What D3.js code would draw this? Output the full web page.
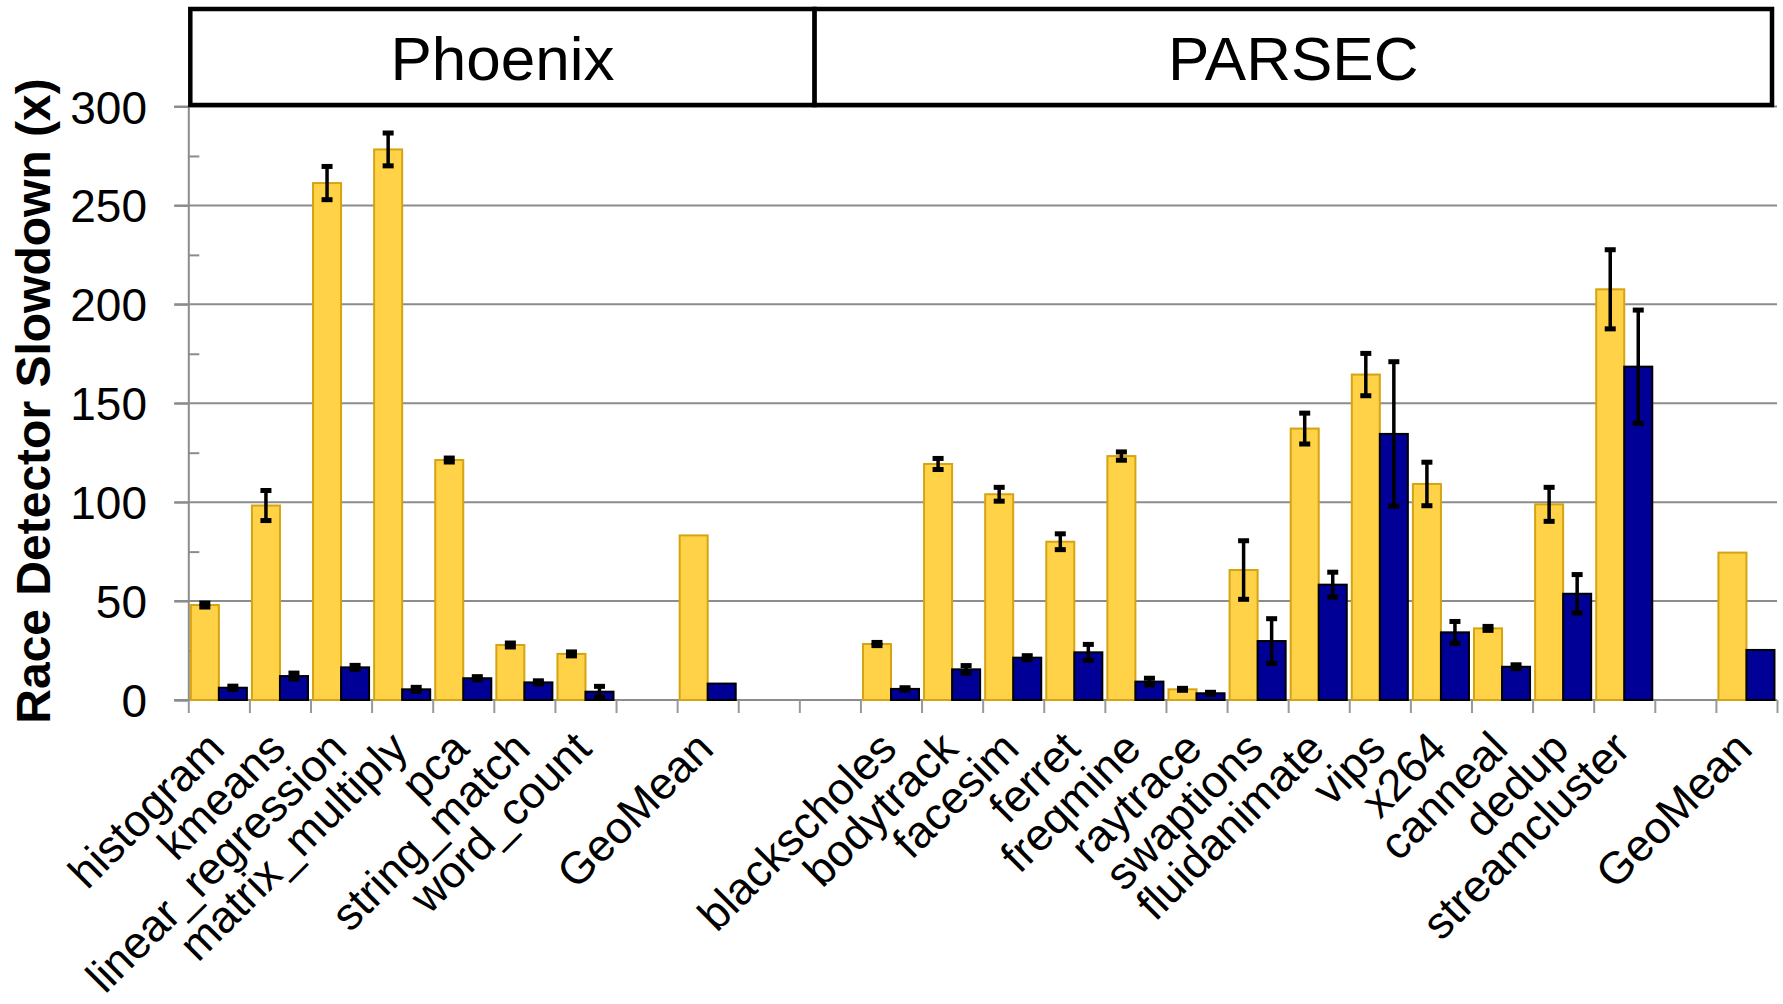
<!DOCTYPE html>
<html>
<head>
<meta charset="utf-8">
<script src="https://cdn.jsdelivr.net/npm/d3@7"></script>
<style>
  html, body { margin: 0; padding: 0; background: #fff; }
  svg { display: block; font-family: "Liberation Sans", Arial, Helvetica, sans-serif; }
</style>
</head>
<body>
<svg id="chart" width="1783" height="1004"></svg>
<script>
// Benchmarks, one slot each; null marks an empty spacer slot.
const categories = [
  "histogram", "kmeans", "linear_regression", "matrix_multiply", "pca",
  "string_match", "word_count", null, "GeoMean", null, null,
  "blackscholes", "bodytrack", "facesim", "ferret", "freqmine", "raytrace",
  "swaptions", "fluidanimate", "vips", "x264", "canneal", "dedup",
  "streamcluster", null, "GeoMean"
];

// Slowdown of the first (gold) and second (navy) detector configuration.
const slowdownGold = [
  48.0, 98.3, 261.3, 278.3, 121.3, 27.8, 23.3, null, 83.2, null, null,
  28.3, 119.3, 104.0, 80.0, 123.3, 5.4, 65.7, 137.2, 164.5, 109.2, 36.2, 98.9,
  207.6, null, 74.5
];
const slowdownNavy = [
  6.2, 12.1, 16.5, 5.4, 11.0, 8.9, 4.2, null, 8.3, null, null,
  5.6, 15.5, 21.4, 24.1, 9.3, 3.4, 29.8, 58.3, 134.5, 34.2, 16.8, 53.7,
  168.5, null, 25.3
];

// Half-width of the error bars (null: no error bar, e.g. geometric means).
const errorGold = [
  1.0, 7.6, 8.4, 8.3, 1.0, 1.0, 1.0, null, null, null, null,
  0.8, 2.8, 3.5, 4.0, 2.1, 0.5, 14.8, 7.8, 10.7, 11.0, 1.0, 8.6,
  20.0, null, null
];
const errorNavy = [
  0.8, 1.5, 1.0, 1.0, 0.8, 0.8, 2.7, null, null, null, null,
  0.6, 1.9, 1.0, 4.0, 1.7, 0.5, 11.3, 6.3, 36.5, 5.5, 1.0, 9.7,
  28.6, null, null
];

const yTicks = [0, 50, 100, 150, 200, 250, 300];
const yMinorTicks = [25, 75, 125, 175, 225, 275];
const suiteNames = ["Phoenix", "PARSEC"];
const suiteSpans = [[0, 10.25], [10.25, 26]];   // slot ranges covered by each suite header
const yTitle = "Race Detector Slowdown (x)";

const series = [
  { key: "gold", values: slowdownGold, errors: errorGold, fill: "#FFD247", stroke: "#D6A312" },
  { key: "navy", values: slowdownNavy, errors: errorNavy, fill: "#000096", stroke: "#000000" }
];

const svg = d3.select("#chart");
const plotLeft = 188.3, plotRight = 1777, plotTop = 106.5, plotBottom = 700;

const x = d3.scaleBand().domain(d3.range(categories.length)).range([plotLeft, plotRight]).padding(0);
const step = x.step();
const slotX = d3.scaleLinear().domain([0, categories.length]).range([plotLeft, plotRight]);
const xInner = d3.scaleBand().domain(series.map(s => s.key)).range([0, step])
  .paddingInner(0).paddingOuter(0.09);
const y = d3.scaleLinear().domain([0, 300]).range([plotBottom, plotTop]);

const gridColor = "#8c8c8c";

// Horizontal gridlines
svg.append("g").selectAll("line").data(yTicks).join("line")
  .attr("x1", plotLeft - 14).attr("x2", plotRight)
  .attr("y1", d => y(d)).attr("y2", d => y(d))
  .attr("stroke", gridColor).attr("stroke-width", 2);

// Y axis with outward major ticks
const yAxis = svg.append("g").attr("transform", `translate(${plotLeft},0)`)
  .call(d3.axisLeft(y).tickValues(yTicks).tickSize(14).tickFormat(d3.format("d")));
yAxis.select(".domain").attr("stroke", gridColor).attr("stroke-width", 2);
yAxis.selectAll(".tick line").attr("stroke", gridColor).attr("stroke-width", 2);
yAxis.selectAll(".tick text")
  .attr("font-size", 46).attr("fill", "#000")
  .attr("x", 147 - plotLeft).attr("dy", "0.36em");
yAxis.attr("font-family", null).attr("font-size", null);

// Minor ticks drawn inside the plot
const yMinor = svg.append("g").attr("transform", `translate(${plotLeft},0)`)
  .call(d3.axisRight(y).tickValues(yMinorTicks).tickSize(11).tickFormat(""));
yMinor.select(".domain").remove();
yMinor.selectAll(".tick line").attr("stroke", gridColor).attr("stroke-width", 2);

// X axis with slot-boundary ticks
const xAxis = svg.append("g").attr("transform", `translate(0,${plotBottom})`)
  .call(d3.axisBottom(slotX).tickValues(d3.range(categories.length + 1)).tickSize(13).tickFormat(""));
xAxis.select(".domain").attr("stroke", gridColor).attr("stroke-width", 2)
  .attr("d", `M${plotLeft - 14},0H${plotRight}`);
xAxis.selectAll(".tick line").attr("stroke", "#999").attr("stroke-width", 2);

// Bars
const groups = svg.append("g").selectAll("g")
  .data(categories.map((c, i) => ({ c, i })).filter(d => slowdownGold[d.i] != null))
  .join("g")
  .attr("transform", d => `translate(${x(d.i)},0)`);

groups.selectAll("rect.bar")
  .data(d => series.map(s => ({ s, v: s.values[d.i], e: s.errors[d.i] })))
  .join("rect").attr("class", "bar")
  .attr("x", d => xInner(d.s.key))
  .attr("width", xInner.bandwidth())
  .attr("y", d => y(d.v))
  .attr("height", d => y(0) - y(d.v))
  .attr("fill", d => d.s.fill)
  .attr("stroke", d => d.s.stroke)
  .attr("stroke-width", 2);

// Error bars
const errs = groups.selectAll("g.err")
  .data(d => series.map(s => ({ s, v: s.values[d.i], e: s.errors[d.i] })).filter(d => d.e != null))
  .join("g").attr("class", "err")
  .attr("transform", d => `translate(${xInner(d.s.key) + xInner.bandwidth() / 2},0)`);
errs.append("line")
  .attr("y1", d => y(d.v + d.e)).attr("y2", d => y(d.v - d.e))
  .attr("stroke", "#000").attr("stroke-width", 3.5);
errs.selectAll("rect.cap")
  .data(d => [d.v + d.e, d.v - d.e])
  .join("rect").attr("class", "cap")
  .attr("x", -5.5).attr("width", 11)
  .attr("y", d => y(d) - 2.5).attr("height", 5)
  .attr("fill", "#000");

// Category labels, rotated
svg.append("g").selectAll("text")
  .data(categories.map((c, i) => ({ c, i })).filter(d => d.c))
  .join("text")
  .attr("transform", d => `translate(${x(d.i) + step / 2 + 8},${plotBottom + 51}) rotate(-45)`)
  .attr("text-anchor", "end")
  .attr("font-size", 45)
  .attr("fill", "#000")
  .text(d => d.c);

// Y axis title
svg.append("text")
  .attr("transform", `translate(50,401) rotate(-90)`)
  .attr("text-anchor", "middle")
  .attr("font-size", 48)
  .attr("font-weight", "bold")
  .text(yTitle);

// Suite header boxes
const headerTop = 9, headerBottom = 105;
const header = svg.append("g");
suiteNames.forEach((name, k) => {
  const x0 = slotX(suiteSpans[k][0]) + (k === 0 ? 2 : 0);
  const x1 = slotX(suiteSpans[k][1]) - (k === 1 ? 5 : 0);
  header.append("rect")
    .attr("x", x0).attr("y", headerTop)
    .attr("width", x1 - x0).attr("height", headerBottom - headerTop)
    .attr("fill", "#fff").attr("stroke", "#000").attr("stroke-width", 4.5);
  header.append("text")
    .attr("x", (x0 + x1) / 2).attr("y", 80)
    .attr("text-anchor", "middle")
    .attr("font-size", 62)
    .text(name);
});
</script>
</body>
</html>
